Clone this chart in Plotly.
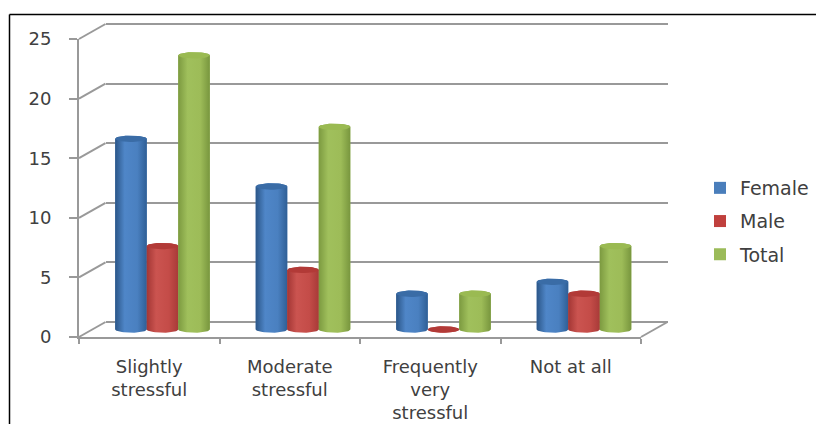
import numpy as np
import plotly.graph_objects as go

categories = ["Slightly<br>stressful", "Moderate<br>stressful", "Frequently<br>very<br>stressful", "Not at all"]
female = [16, 12, 3, 4]
male = [7, 5, 0, 3]
total = [23, 17, 3, 7]
y_ticks = [0, 5, 10, 15, 20, 25]

series = [
    ("Female", female, "#4a7ebb", ["#2b5688", "#4f86c8", "#4a80c0", "#2f5f96"], "#3a6ca6"),
    ("Male", male, "#c0403d", ["#a33634", "#cb5450", "#c44c48", "#a83a38"], "#b23a37"),
    ("Total", total, "#9bbb59", ["#7c9a40", "#a0c05c", "#9dbc58", "#78963e"], "#9aba52"),
]

W, H = 816, 424
FONT = "DejaVu Sans"
TEXT = "#404040"
GRID = "#999999"

# pixel boxes of the three depth planes of the pseudo-3D frame
FRONT = (79, 641, 39, 337)
DEPTH_X, DEPTH_Y = 26.5, 15
Y_PER_PX = 25 / (FRONT[3] - FRONT[2])
# the inner planes are padded so end gridlines and round bar ends are not trimmed
PAD = 5
MID = (FRONT[0] + DEPTH_X / 2, FRONT[1] + DEPTH_X / 2, FRONT[2] - DEPTH_Y / 2 - PAD, FRONT[3] - DEPTH_Y / 2 + PAD)
BACK = (FRONT[0] + DEPTH_X, FRONT[1] + DEPTH_X, FRONT[2] - DEPTH_Y - PAD, FRONT[3] - DEPTH_Y + PAD)
PADDED_RANGE = [-PAD * Y_PER_PX, 25 + PAD * Y_PER_PX]


def dom_x(box):
    return [box[0] / W, box[1] / W]


def dom_y(box):
    return [1 - box[3] / H, 1 - box[2] / H]


GROUP = 0.673
BAR_W = GROUP / 3
ELL_RY = 3.2 * Y_PER_PX


def cylinder(center, value):
    t = np.linspace(0, np.pi, 24)
    top_x = center + BAR_W / 2 * np.cos(t)
    top_y = value + ELL_RY * np.sin(t)
    bot_x = center - BAR_W / 2 * np.cos(t)
    bot_y = -ELL_RY * np.sin(t)
    return np.r_[top_x, bot_x, top_x[0]], np.r_[top_y, bot_y, top_y[0]]


def top_cap(center, value):
    t = np.linspace(0, 2 * np.pi, 40)
    return center + BAR_W / 2 * np.cos(t), value + ELL_RY * np.sin(t)


fig = go.Figure()

# back wall: only carries the horizontal gridlines
fig.add_trace(go.Scatter(x=[0, 1], y=[0, 25], mode="none", xaxis="x", yaxis="y",
                         showlegend=False, hoverinfo="skip"))

# flat bars hold the values and the legend entries
positions = list(range(len(categories)))
for i, (name, values, color, _, _) in enumerate(series):
    fig.add_trace(go.Bar(x=positions, y=values, name=name, marker=dict(color=color, line=dict(width=0)),
                         width=BAR_W, offset=(i - 1.5) * BAR_W, xaxis="x2", yaxis="y2",
                         legendgroup=name, showlegend=True))

# rounded shading on top of each bar
for i, (name, values, color, ramp, cap) in enumerate(series):
    for pos, v in zip(positions, values):
        center = pos + (i - 1) * BAR_W
        cx, cy = cylinder(center, v)
        fig.add_trace(go.Scatter(
            x=cx, y=cy, mode="lines", line=dict(width=0), fill="toself", xaxis="x2", yaxis="y2",
            fillgradient=dict(type="horizontal",
                              colorscale=[[0, ramp[0]], [0.3, ramp[1]], [0.7, ramp[2]], [1, ramp[3]]]),
            showlegend=False, hoverinfo="skip", legendgroup=name))
        tx, ty = top_cap(center, v)
        fig.add_trace(go.Scatter(x=tx, y=ty, mode="lines", line=dict(width=0), fill="toself",
                                 fillcolor=cap, xaxis="x2", yaxis="y2",
                                 showlegend=False, hoverinfo="skip", legendgroup=name))

# front plane: carries the visible axes, ticks and labels
fig.add_trace(go.Scatter(x=categories, y=[0] * len(categories), mode="none", xaxis="x3", yaxis="y3",
                         showlegend=False, hoverinfo="skip"))

# depth lines joining the front axis to the back wall
shapes = []
for v in y_ticks:
    y0 = FRONT[3] - v / Y_PER_PX
    shapes.append(dict(type="line", xref="paper", yref="paper", x0=FRONT[0] / W, x1=BACK[0] / W,
                       y0=1 - y0 / H, y1=1 - (y0 - DEPTH_Y) / H, line=dict(color=GRID, width=2)))
shapes.append(dict(type="line", xref="paper", yref="paper", x0=FRONT[1] / W, x1=BACK[1] / W,
                   y0=1 - FRONT[3] / H, y1=1 - (FRONT[3] - DEPTH_Y) / H, line=dict(color=GRID, width=2)))
# outer frame along the top and left edges
shapes.append(dict(type="line", xref="paper", yref="paper", x0=9.5 / W, x1=1,
                   y0=1 - 14.5 / H, y1=1 - 14.5 / H, line=dict(color="#000000", width=1.5)))
shapes.append(dict(type="line", xref="paper", yref="paper", x0=9.5 / W, x1=9.5 / W,
                   y0=0, y1=1 - 14.5 / H, line=dict(color="#000000", width=1.5)))

fig.update_layout(
    template="none",
    width=W, height=H, margin=dict(l=0, r=0, t=0, b=0, pad=0), autosize=False,
    paper_bgcolor="white", plot_bgcolor="rgba(0,0,0,0)",
    barmode="overlay", shapes=shapes,
    font=dict(family=FONT, size=18, color=TEXT),
    legend=dict(x=700 / W, y=1 - 169 / H, xanchor="left", yanchor="top", traceorder="grouped",
                tracegroupgap=5.5, font=dict(family=FONT, size=19, color=TEXT),
                bgcolor="rgba(0,0,0,0)", borderwidth=0, itemwidth=30),
    xaxis=dict(domain=dom_x(BACK), range=[-0.5, 3.5], showgrid=False, showline=False, zeroline=False,
               showticklabels=False, ticks="", automargin=False),
    yaxis=dict(domain=dom_y(BACK), range=PADDED_RANGE, tickvals=y_ticks,
               showgrid=True, gridcolor=GRID, gridwidth=2, showline=False, zeroline=False,
               showticklabels=False, ticks="", automargin=False),
    xaxis2=dict(domain=dom_x(MID), range=[-0.5, 3.5], visible=False, anchor="y2", automargin=False),
    yaxis2=dict(domain=dom_y(MID), range=PADDED_RANGE, visible=False, anchor="x2", automargin=False),
    xaxis3=dict(domain=dom_x(FRONT), type="category", categoryorder="array", categoryarray=categories,
                range=[-0.5, 3.5], tickson="boundaries", ticks="outside", ticklen=5, tickcolor=GRID, tickwidth=2,
                showline=True, linecolor=GRID, linewidth=2, showgrid=False, zeroline=False, anchor="y3",
                tickfont=dict(family=FONT, size=18, color=TEXT), ticklabelstandoff=12, automargin=False),
    yaxis3=dict(domain=dom_y(FRONT), range=[0, 25], tickvals=y_ticks, ticks="outside", ticklen=8, tickcolor=GRID,
                tickwidth=2, showline=True, linecolor=GRID, linewidth=2, showgrid=False, zeroline=False,
                anchor="x3", tickfont=dict(family=FONT, size=18, color=TEXT), ticklabelstandoff=14, automargin=False),
)

fig.write_html("out.html")
